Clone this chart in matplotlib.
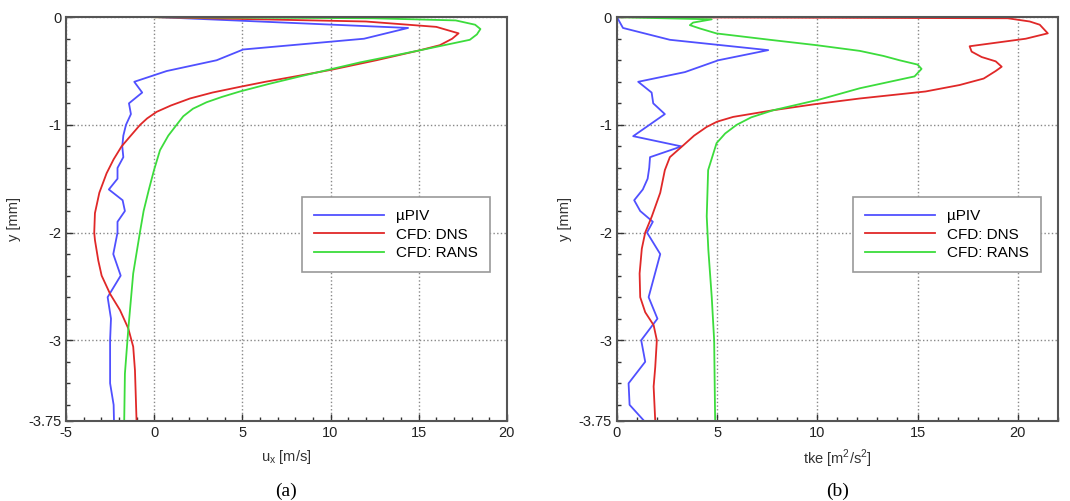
import numpy as np
import matplotlib
matplotlib.use("Agg")
from matplotlib import pyplot as plt
from matplotlib.ticker import MultipleLocator

plt.rcParams['font.family'] = ['Liberation Sans', 'DejaVu Sans']
plt.rcParams['axes.unicode_minus'] = False

# ---- panel (a): streamwise velocity u_x [m/s] vs y [mm]
piv_u_y = [0, -0.10, -0.20, -0.30, -0.40, -0.50, -0.60, -0.70, -0.80, -0.90,
           -1.0, -1.1, -1.2, -1.3, -1.4, -1.5, -1.6, -1.7, -1.8, -1.9, -2.0,
           -2.2, -2.4, -2.6, -2.8, -3.0, -3.2, -3.4, -3.6, -3.75]
piv_u = [0.3, 14.4, 11.9, 5.05, 3.54, 0.71, -1.13, -0.68, -1.43, -1.32,
         -1.6, -1.75, -1.81, -1.75, -2.08, -2.08, -2.57, -1.79, -1.66, -2.08, -2.08,
         -2.32, -1.9, -2.64, -2.45, -2.5, -2.5, -2.5, -2.3, -2.28]

dns_u_y = [0, -0.04, -0.09, -0.15, -0.20, -0.26, -0.31, -0.40, -0.49, -0.55,
           -0.60, -0.647, -0.70, -0.755, -0.82, -0.879, -0.94, -1.0, -1.11, -1.2,
           -1.32, -1.45, -1.63, -1.82, -2.0, -2.07, -2.26, -2.4, -2.57, -2.72,
           -2.89, -3.06, -3.28, -3.75]
dns_u = [0.0, 12.0, 16.0, 17.26, 16.9, 16.2, 15.0, 12.6, 10.0, 8.0,
         6.3, 4.86, 3.3, 2.03, 0.95, 0.14, -0.4, -0.8, -1.38, -1.85,
         -2.3, -2.7, -3.11, -3.36, -3.4, -3.36, -3.17, -2.98, -2.5, -1.94,
         -1.47, -1.19, -1.09, -1.0]

rans_u_y = [0, -0.01, -0.03, -0.07, -0.11, -0.16, -0.21, -0.31, -0.42, -0.55,
            -0.62, -0.69, -0.74, -0.79, -0.85, -0.92, -1.0, -1.1, -1.235, -1.42,
            -1.6, -1.8, -2.0, -2.38, -2.9, -3.31, -3.75]
rans_u = [0.0, 12.4, 17.1, 18.2, 18.5, 18.3, 17.9, 15.0, 11.67, 8.27,
          6.5, 4.86, 3.85, 2.97, 2.2, 1.65, 1.27, 0.8, 0.33, -0.01,
          -0.3, -0.6, -0.81, -1.19, -1.47, -1.66, -1.70]

# ---- panel (b): turbulent kinetic energy tke [m2/s2] vs y [mm]
piv_k_y = [0, -0.10, -0.21, -0.306, -0.40, -0.51, -0.60, -0.70, -0.80, -0.90,
           -1.105, -1.2, -1.3, -1.4, -1.5, -1.6, -1.7, -1.8, -1.9, -2.0,
           -2.2, -2.6, -2.8, -3.0, -3.2, -3.4, -3.6, -3.75]
piv_k = [0.0, 0.3, 2.64, 7.55, 5.06, 3.39, 1.06, 1.73, 1.81, 2.39,
         0.81, 3.22, 1.65, 1.61, 1.53, 1.29, 0.86, 1.16, 1.79, 1.5,
         2.16, 1.58, 2.02, 1.21, 1.41, 0.58, 0.63, 1.36]

dns_k_y = [0, -0.01, -0.04, -0.07, -0.15, -0.20, -0.27, -0.32, -0.37, -0.41,
           -0.46, -0.50, -0.57, -0.63, -0.69, -0.755, -0.81, -0.864, -0.926, -0.97,
           -1.02, -1.1, -1.19, -1.30, -1.42, -1.63, -1.85, -2.0, -2.15, -2.38,
           -2.6, -2.74, -2.86, -3.0, -3.25, -3.43, -3.75]
dns_k = [0.0, 19.5, 20.6, 21.1, 21.5, 20.4, 17.6, 17.7, 18.2, 18.9,
         19.2, 18.9, 18.3, 17.1, 15.4, 12.12, 9.8, 7.8, 5.8, 5.0,
         4.47, 3.85, 3.31, 2.64, 2.39, 2.16, 1.74, 1.41, 1.24, 1.13,
         1.16, 1.41, 1.83, 1.99, 1.91, 1.83, 1.91]

rans_k_y = [0, -0.02, -0.05, -0.074, -0.105, -0.151, -0.21, -0.26, -0.313, -0.36,
            -0.40, -0.44, -0.48, -0.55, -0.66, -0.764, -0.864, -0.93, -1.0, -1.08,
            -1.17, -1.42, -1.85, -2.16, -2.6, -3.0, -3.75]
rans_k = [0.0, 4.73, 3.8, 3.64, 4.14, 4.97, 7.63, 9.96, 12.12, 13.3,
          14.1, 15.0, 15.2, 14.85, 12.12, 10.12, 7.8, 6.7, 5.97, 5.4,
          4.97, 4.55, 4.48, 4.56, 4.73, 4.85, 4.9]

labels = [u'\u00b5PIV', 'CFD: DNS', 'CFD: RANS']
colors = ['#5050ff', '#e02828', '#3cdc3c']
y_ticks = [0, -1, -2, -3, -3.75]
y_tick_labels = ['0', '-1', '-2', '-3', '-3.75']


def setup_axis(ax, xlim, xlabel, tag):
    ax.set_xlim(*xlim)
    ax.set_ylim(-3.75, 0)
    ax.set_yticks(y_ticks)
    ax.set_yticklabels(y_tick_labels)
    ax.xaxis.set_major_locator(MultipleLocator(5))
    ax.xaxis.set_minor_locator(MultipleLocator(1))
    ax.yaxis.set_minor_locator(MultipleLocator(0.2))
    ax.tick_params(which='both', direction='in', top=False, right=False,
                   labelsize=10.5, colors='#333333', labelcolor='#222222')
    ax.tick_params(which='major', length=5, width=1)
    ax.tick_params(which='minor', length=3, width=1)
    ax.grid(True, which='major', linestyle=':', color='#888888', linewidth=1)
    for s in ax.spines.values():
        s.set_color('#555555')
        s.set_linewidth(1.5)
    ax.set_xlabel(xlabel, fontsize=10.5, color='#333333', labelpad=6)
    ax.set_ylabel('y [mm]', fontsize=10.5, color='#333333', labelpad=5)
    ax.text(0.5, -0.175, tag, transform=ax.transAxes, ha='center', va='center',
            fontsize=14, family=['Liberation Serif', 'DejaVu Serif'])
    leg = ax.legend(loc='upper left', bbox_to_anchor=(0.535, 0.555),
                    fontsize=11, fancybox=False, framealpha=1,
                    edgecolor='#999999', handlelength=4.6, handletextpad=0.75,
                    borderpad=0.8, labelspacing=0.3, borderaxespad=0)
    leg.get_frame().set_linewidth(1.2)


fig = plt.figure(figsize=(10.70, 5.01), dpi=100)
ax1 = fig.add_axes([0.0617, 0.1597, 0.412, 0.806])
ax2 = fig.add_axes([0.5766, 0.1597, 0.412, 0.806])

ax1.plot(piv_u, piv_u_y, color=colors[0], lw=1.3, label=labels[0])
ax1.plot(dns_u, dns_u_y, color=colors[1], lw=1.3, label=labels[1])
ax1.plot(rans_u, rans_u_y, color=colors[2], lw=1.3, label=labels[2])
setup_axis(ax1, (-5, 20), r'u$_\mathregular{x}$ [m/s]', '(a)')

ax2.plot(piv_k, piv_k_y, color=colors[0], lw=1.3, label=labels[0])
ax2.plot(dns_k, dns_k_y, color=colors[1], lw=1.3, label=labels[1])
ax2.plot(rans_k, rans_k_y, color=colors[2], lw=1.3, label=labels[2])
setup_axis(ax2, (0, 22), r'tke [m$^\mathregular{2}$/s$^\mathregular{2}$]', '(b)')

fig.savefig('out.png', dpi=100)
plt.close(fig)
